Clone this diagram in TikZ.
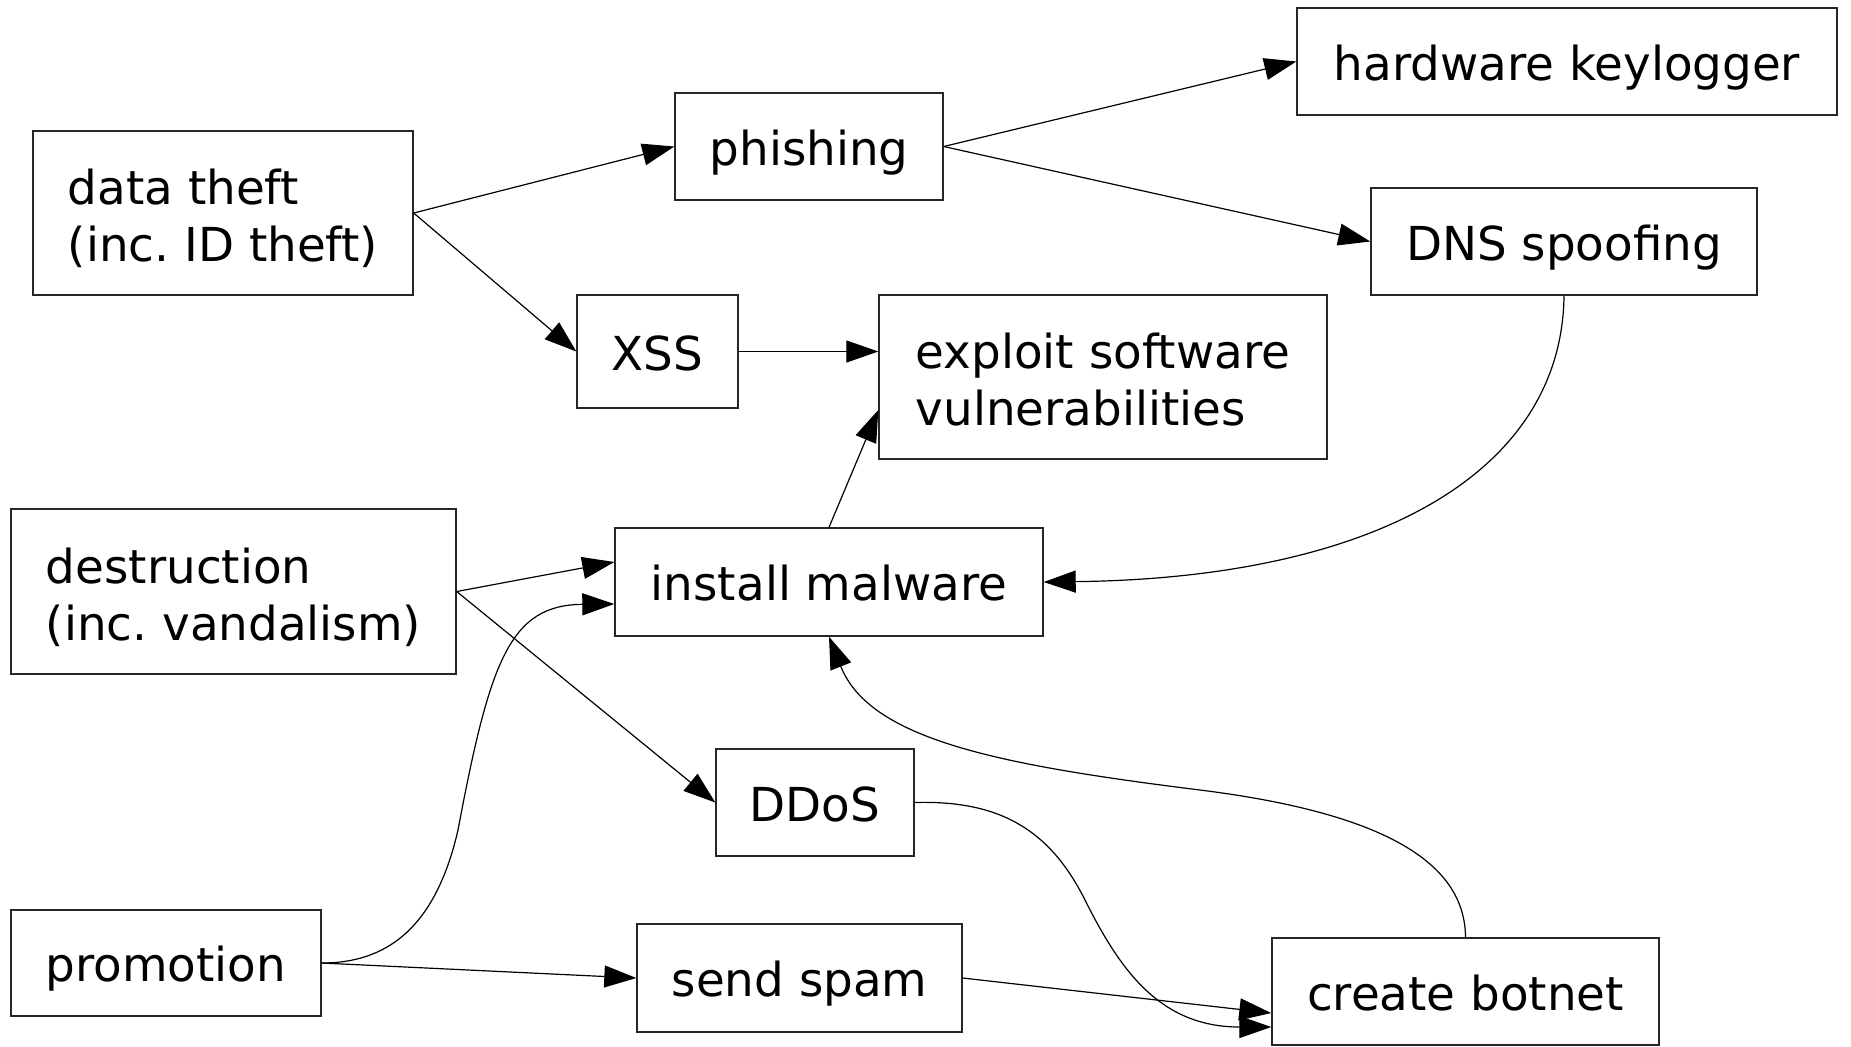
\documentclass[tikz,border=0pt]{standalone}
\usepackage{fontspec}
\setmainfont{DejaVu Sans}
\usetikzlibrary{arrows.meta}
\begin{document}
\frenchspacing
\begin{tikzpicture}[x=0.5pt,y=-0.5pt,
  box/.style={draw=black!85, line width=0.7pt, inner sep=0pt, font=\fontsize{23.4}{28.5}\selectfont, align=left, text height=18.5pt, text depth=0pt},
  box2/.style={box, text height=48.5pt, text depth=0pt},
  edge/.style={line width=0.6pt, -{Triangle[length=16pt,width=11pt]}}]
\useasboundingbox (0,0) rectangle (1851,1046);
\fill[white] (0,0) rectangle (1851,1046);

\node[box2, minimum width=190pt, minimum height=82pt] (data) at (223,213) {data theft\\(inc. ID theft)};
\node[box, minimum width=134pt, minimum height=53.5pt] (phish) at (809,146.5) {phishing};
\node[box, minimum width=270pt, minimum height=53.5pt] (hw) at (1567,61.5) {hardware keylogger};
\node[box, minimum width=193pt, minimum height=53.5pt] (dns) at (1564,241.5) {DNS spoofing};
\node[box, minimum width=80.5pt, minimum height=56.5pt] (xss) at (657.5,351.5) {XSS};
\node[box2, minimum width=224pt, minimum height=82pt] (exploit) at (1103,377) {exploit software\\vulnerabilities};
\node[box2, minimum width=222.5pt, minimum height=82.5pt] (destr) at (233.5,591.5) {destruction\\(inc. vandalism)};
\node[box, minimum width=214pt, minimum height=54pt] (install) at (829,582) {install malware};
\node[box, minimum width=99pt, minimum height=53.5pt] (ddos) at (815,802.5) {DDoS};
\node[box, minimum width=155pt, minimum height=53pt] (promo) at (166,963) {promotion};
\node[box, minimum width=162.5pt, minimum height=54pt] (spam) at (799.5,978) {send spam};
\node[box, minimum width=193.5pt, minimum height=53.5pt] (botnet) at (1465.5,991.5) {create botnet};

\draw[edge] (data.east) -- (phish.west);
\draw[edge] (data.east) -- (xss.west);
\draw[edge] (phish.east) -- (hw.west);
\draw[edge] (phish.east) -- (dns.west);
\draw[edge] (xss.east) -- (xss.east -| exploit.west);
\draw[edge] (install.north) -- ([yshift=-16.5pt]exploit.west);
\draw[edge] (destr.east) -- ([yshift=10pt]install.west);
\draw[edge] (destr.east) -- (ddos.west);
\draw[edge] (promo.east) .. controls (385,963) and (435,930) .. (458,830)
  .. controls (490,660) and (510,605) .. ([yshift=-11pt]install.west);
\draw[edge] (promo.east) -- (spam.west);
\draw[edge] (spam.east) -- ([yshift=-10.75pt]botnet.west);
\draw[edge] (ddos.east) .. controls (1000,800) and (1050,830) .. (1085,900)
  .. controls (1120,970) and (1160,1027) .. ([yshift=-17.75pt]botnet.west);
\draw[edge] (botnet.north) .. controls (1465,870) and (1400,815) .. (1200,790)
  .. controls (1000,765) and (870,740) .. (install.south);
\draw[edge] (dns.south) .. controls (1562,470) and (1380,578) .. (install.east);
\end{tikzpicture}
\end{document}
